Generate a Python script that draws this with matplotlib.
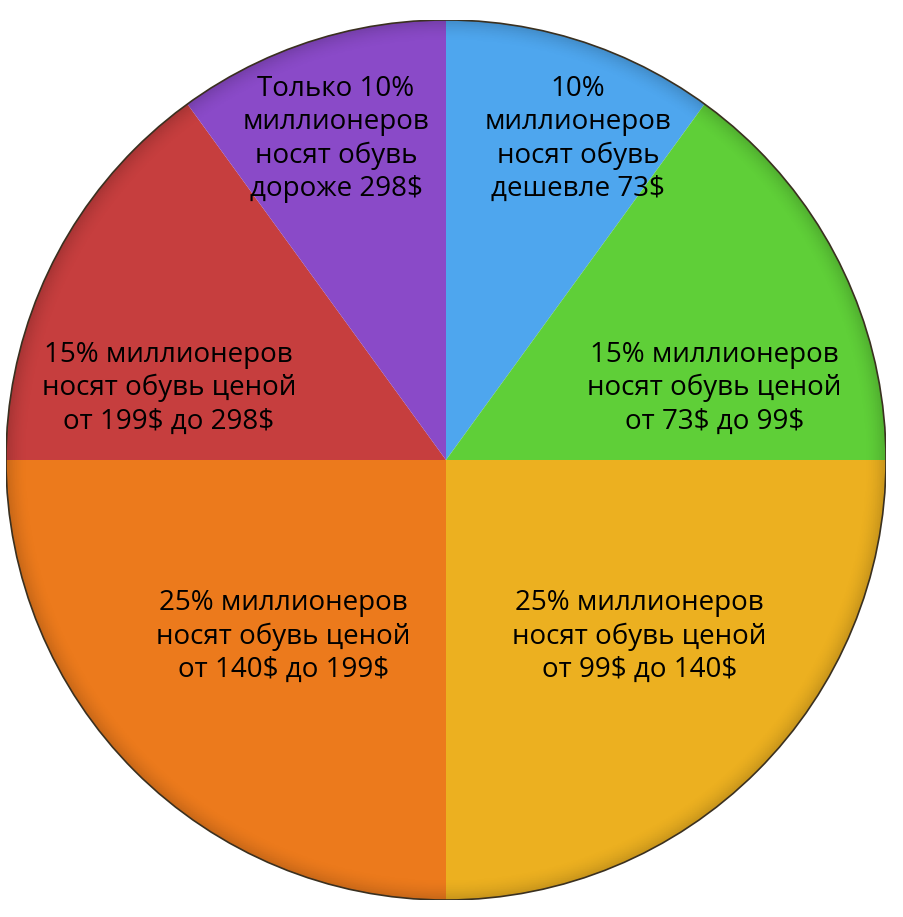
import matplotlib
matplotlib.use("Agg")
from matplotlib import pyplot as plt
import numpy as np

# slice data, clockwise from the top
shares = [10, 15, 25, 25, 15, 10]
colors = ['#4ea6ee', '#5fcf38', '#ecb020', '#ec7a1c', '#c63e3e', '#8a4ac8']
labels = [
    '10%\nмиллионеров\nносят обувь\nдешевле 73$',
    '15% миллионеров\nносят обувь ценой\nот 73$ до 99$',
    '25% миллионеров\nносят обувь ценой\nот 99$ до 140$',
    '25% миллионеров\nносят обувь ценой\nот 140$ до 199$',
    '15% миллионеров\nносят обувь ценой\nот 199$ до 298$',
    'Только 10%\nмиллионеров\nносят обувь\nдороже 298$',
]

# where each label sits (pie radius = 1)
label_pos = [(0.30, 0.730), (0.61, 0.163), (0.44, -0.401),
             (-0.37, -0.401), (-0.63, 0.163), (-0.25, 0.730)]

fig = plt.figure(figsize=(9.04, 9.17), dpi=100)
ax = fig.add_axes([6/904, 17/917, 880/904, 880/917])

wedges, _ = ax.pie(shares, colors=colors, startangle=90, counterclock=False,
                   radius=1, wedgeprops=dict(linewidth=0))

# soft darkening toward the rim for a bit of depth
g = np.linspace(-1, 1, 400)
xx, yy = np.meshgrid(g, g)
rr = np.sqrt(xx**2 + yy**2)
shade = np.zeros((400, 400, 4))
shade[..., 3] = np.clip((rr - 0.95) / 0.05, 0, 1) ** 2 * 0.15
img = ax.imshow(shade, extent=(-1, 1, -1, 1), origin='lower', zorder=3)
img.set_clip_path(plt.Circle((0, 0), 1, transform=ax.transData))

# dark rim
ax.add_patch(plt.Circle((0, 0), 1, fill=False, edgecolor='#3a3020',
                        linewidth=1.2, zorder=4))

for text, (x, y) in zip(labels, label_pos):
    ax.text(x, y, text, ha='center', va='center', fontsize=20,
            family='Open Sans', color='black', linespacing=1.25,
            parse_math=False, zorder=5)

ax.set_xlim(-1, 1)
ax.set_ylim(-1, 1)
ax.set_aspect('auto')
ax.axis('off')

fig.savefig('out.png', dpi=100)
